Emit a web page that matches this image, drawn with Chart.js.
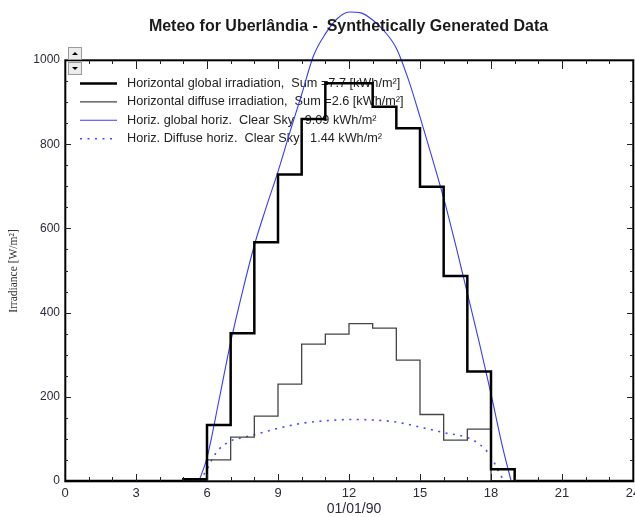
<!DOCTYPE html>
<html>
<head>
<meta charset="utf-8">
<script src="https://cdn.jsdelivr.net/npm/chart.js@4"></script>
<style>
  html, body { margin: 0; padding: 0; background: #fff; overflow: hidden; width: 635px; height: 517px; }
  #wrap { width: 650px; height: 517px; }
</style>
</head>
<body>
<div id="wrap"><canvas id="myChart" width="650" height="517"></canvas></div>
<script>
const hours = [0, 1, 2, 3, 4, 5, 6, 7, 8, 9, 10, 11, 12, 13, 14, 15, 16, 17, 18, 19, 20, 21, 22, 23, 24];
const globalIrr = [0, 0, 0, 0, 0, 4, 133, 351, 567, 728, 860, 945, 945, 889, 838, 699, 487, 260, 28, 0, 0, 0, 0, 0, 0];
const diffuseIrr = [0, 0, 0, 0, 0, 0, 50, 104, 154, 230, 325, 349, 374, 363, 287, 158, 97, 123, 0, 0, 0, 0, 0, 0, 0];

const clearHours = [5.66, 6, 6.5, 7, 7.5, 8, 8.5, 9, 9.5, 10, 10.5, 11, 11.5, 12, 12.5, 13, 13.5, 14, 14.5, 15, 15.5, 16, 16.5, 17, 17.5, 18, 18.5, 18.85];
const clearGlobal = [0, 55, 190, 330, 450, 560, 650, 735, 828, 918, 1010, 1062, 1098, 1114, 1112, 1095, 1068, 1028, 955, 865, 770, 672, 562, 446, 330, 207, 78, 0];

const clearDiffHours = [5.7, 6, 6.25, 6.5, 7, 7.5, 8, 9, 10, 11, 12, 13, 14, 15, 16, 17, 17.5, 18, 18.3, 18.55];
const clearDiffuse = [0, 28, 55, 75, 95, 103, 110, 125, 137, 143, 146, 145, 140, 128, 115, 103, 88, 58, 25, 0];

const legendLabels = [
  "Horizontal global irradiation,  Sum =7.7 [kWh/m\u00b2]",
  "Horizontal diffuse irradiation,  Sum =2.6 [kWh/m\u00b2]",
  "Horiz. global horiz.  Clear Sky   9.09 kWh/m\u00b2",
  "Horiz. Diffuse horiz.  Clear Sky   1.44 kWh/m\u00b2"
];
const chartTitle = "Meteo for Uberl\u00e2ndia -  Synthetically Generated Data";
const xTitle = "01/01/90";
const yTitle = "Irradiance [W/m\u00b2]";

const toPoints = (xs, ys) => xs.map((x, i) => ({ x: x, y: ys[i] }));

const ctx = document.getElementById("myChart");
const FONT = "'Liberation Sans', Arial, sans-serif";

// frame, inward ticks, titles, scroll buttons
const decorations = {
  id: "decorations",
  beforeDatasetsDraw(chart) {
    const c = chart.ctx;
    const styles = chart.data.datasets;
    c.save();
    c.font = "12.7px " + FONT;
    c.fillStyle = "#222";
    c.textBaseline = "middle";
    legendLabels.forEach((txt, i) => {
      const y = 83.5 + i * 18.4;
      const ds = styles[i];
      c.beginPath();
      c.strokeStyle = ds.borderColor;
      c.lineWidth = ds.borderWidth;
      c.setLineDash(ds.borderDash || []);
      c.moveTo(80, y);
      c.lineTo(117, y);
      c.stroke();
      c.setLineDash([]);
      c.fillText(txt, 127, y);
    });
    c.restore();
  },
  afterDraw(chart) {
    const c = chart.ctx;
    const a = chart.chartArea;
    const xs = chart.scales.x;
    const ys = chart.scales.y;
    c.save();
    c.strokeStyle = "#000";
    c.lineWidth = 2;
    c.strokeRect(a.left + 0.3, a.top + 0.3, a.right - a.left, a.bottom - a.top);

    c.lineWidth = 1;
    c.strokeStyle = "#222";
    c.beginPath();
    for (let h = 1; h < 24; h++) {
      const px = Math.round(xs.getPixelForValue(h)) + 0.5;
      const len = h % 3 === 0 ? 7 : 4;
      c.moveTo(px, a.bottom);
      c.lineTo(px, a.bottom - len);
      c.moveTo(px, a.top);
      c.lineTo(px, a.top + len + (h % 3 === 0 ? 2 : 0));
    }
    for (let v = 50; v < 1000; v += 50) {
      const py = Math.round(ys.getPixelForValue(v)) + 0.5;
      const len = v % 200 === 0 ? 6 : 3;
      c.moveTo(a.left, py);
      c.lineTo(a.left + len, py);
      c.moveTo(a.right, py);
      c.lineTo(a.right - len, py);
    }
    c.stroke();

    // titles
    c.fillStyle = "#1a1a1a";
    c.font = "bold 16px " + FONT;
    c.textAlign = "center";
    c.textBaseline = "alphabetic";
    c.fillText(chartTitle, 348.5, 30.5);

    c.fillStyle = "#2a2a3a";
    c.font = "14px " + FONT;
    c.fillText(xTitle, 354, 512.5);

    c.save();
    c.translate(13.5, 271);
    c.rotate(-Math.PI / 2);
    c.font = "11.5px 'Liberation Serif', 'Times New Roman', serif";
    c.textBaseline = "middle";
    c.fillStyle = "#333";
    c.fillText(yTitle, 0, 0);
    c.restore();

    // scroll buttons
    [[47.5, true], [62.5, false]].forEach(([top, up]) => {
      c.fillStyle = "#ececec";
      c.fillRect(68.5, top, 13, 12);
      c.strokeStyle = "#9a9a9a";
      c.lineWidth = 1;
      c.strokeRect(68.5, top, 13, 12);
      c.fillStyle = "#000";
      c.beginPath();
      const cx = 75, cy = top + 6;
      if (up) {
        c.moveTo(cx - 3, cy + 1.5); c.lineTo(cx + 3, cy + 1.5); c.lineTo(cx, cy - 1.5);
      } else {
        c.moveTo(cx - 3, cy - 1.5); c.lineTo(cx + 3, cy - 1.5); c.lineTo(cx, cy + 1.5);
      }
      c.closePath();
      c.fill();
    });
    c.restore();
  }
};

new Chart(ctx, {
  type: "line",
  data: {
    datasets: [
      {
        label: legendLabels[0],
        data: toPoints(hours, globalIrr),
        stepped: "before",
        borderColor: "#000",
        borderWidth: 2.5,
        pointRadius: 0,
        fill: false
      },
      {
        label: legendLabels[1],
        data: toPoints(hours, diffuseIrr),
        stepped: "before",
        borderColor: "#444",
        borderWidth: 1.3,
        pointRadius: 0,
        fill: false
      },
      {
        label: legendLabels[2],
        data: toPoints(clearHours, clearGlobal),
        borderColor: "#3a3aff",
        borderWidth: 1.1,
        pointRadius: 0,
        cubicInterpolationMode: "monotone",
        clip: false,
        fill: false
      },
      {
        label: legendLabels[3],
        data: toPoints(clearDiffHours, clearDiffuse),
        borderColor: "#4848ff",
        borderWidth: 1.6,
        borderDash: [2, 5.5],
        pointRadius: 0,
        cubicInterpolationMode: "monotone",
        fill: false
      }
    ]
  },
  options: {
    responsive: false,
    animation: false,
    devicePixelRatio: 1,
    layout: { padding: { top: 60, right: 17, left: 0, bottom: 0 } },
    plugins: {
      legend: { display: false },
      title: { display: false },
      tooltip: { enabled: false }
    },
    scales: {
      x: {
        type: "linear",
        min: 0,
        max: 24,
        afterFit: (scale) => { scale.height = 36; },
        grid: { display: false, drawTicks: false },
        border: { display: false },
        ticks: {
          stepSize: 3,
          padding: 5,
          color: "#2a2a3a",
          font: { family: FONT, size: 13 },
          maxRotation: 0,
          callback: (v) => String(v)
        }
      },
      y: {
        min: 0,
        max: 1000,
        afterFit: (scale) => { scale.width = 65; },
        grid: { display: false, drawTicks: false },
        border: { display: false },
        ticks: {
          stepSize: 200,
          padding: 5,
          color: "#2a2a3a",
          font: { family: FONT, size: 12 },
          callback: (v) => String(v)
        }
      }
    }
  },
  plugins: [decorations]
});
</script>
</body>
</html>
